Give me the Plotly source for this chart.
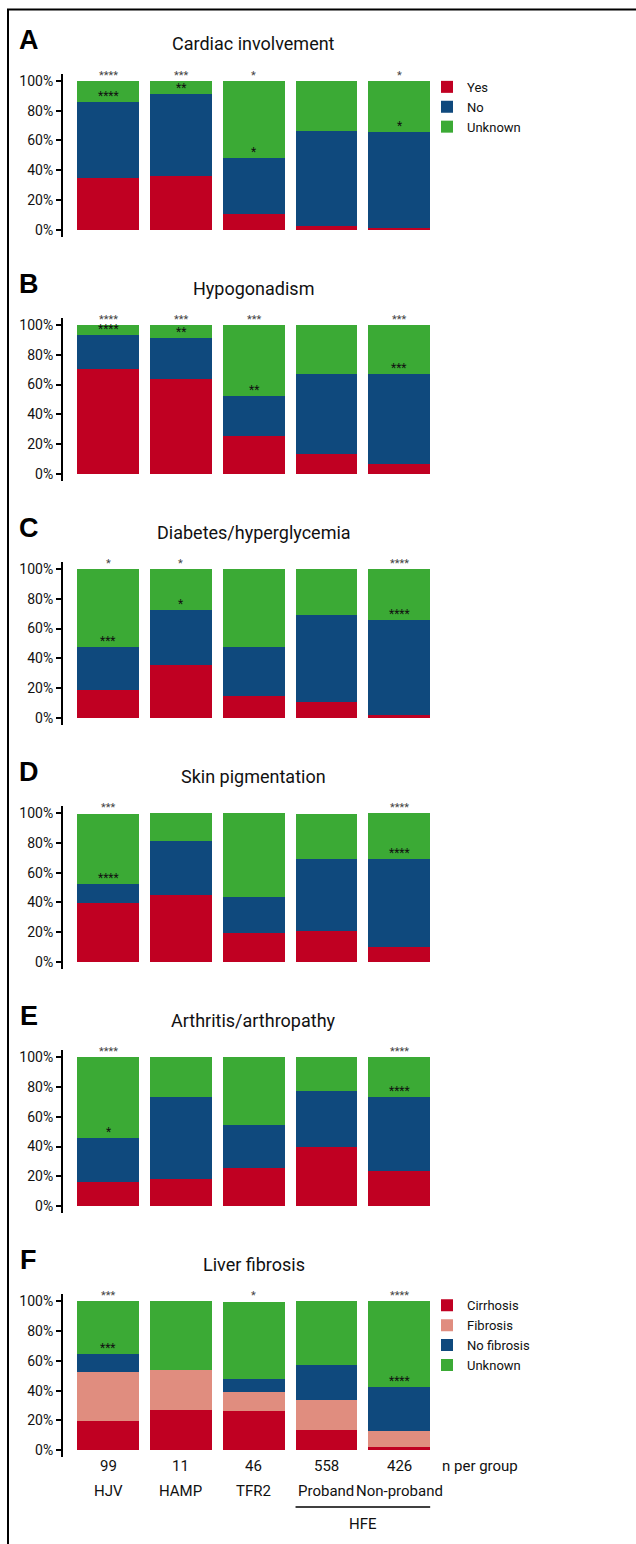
import plotly.graph_objects as go

W, H = 636, 1544

# ---------------- data ----------------
groups = ["HJV", "HAMP", "TFR2", "Proband", "Non-proband"]
n_per_group = ["99", "11", "46", "558", "426"]

panel_letters = ["A", "B", "C", "D", "E", "F"]
panel_titles = ["Cardiac involvement", "Hypogonadism", "Diabetes/hyperglycemia",
                "Skin pigmentation", "Arthritis/arthropathy", "Liver fibrosis"]

y_tick_vals = [0, 20, 40, 60, 80, 100]
y_tick_text = ["0%", "20%", "40%", "60%", "80%", "100%"]

# Panels A-E: Yes / No / Unknown (% of group)
cardiac_yes = [34.9, 36.2, 10.3, 2.7, 1.3]
cardiac_no = [51.0, 55.3, 37.6, 63.7, 64.5]
cardiac_unknown = [14.1, 8.5, 52.1, 33.6, 34.2]

hypogonadism_yes = [70.3, 63.6, 25.4, 13.3, 6.5]
hypogonadism_no = [23.0, 27.6, 26.7, 53.7, 60.5]
hypogonadism_unknown = [6.7, 8.8, 47.9, 33.0, 33.0]

diabetes_yes = [18.6, 35.7, 14.6, 10.5, 2.0]
diabetes_no = [28.9, 36.7, 32.9, 58.6, 63.7]
diabetes_unknown = [52.5, 27.6, 52.5, 30.9, 34.3]

skin_yes = [39.4, 44.7, 19.2, 21.0, 10.3]
skin_no = [12.9, 36.9, 24.2, 48.4, 59.1]
skin_unknown = [47.3, 18.8, 57.0, 30.1, 31.0]

arthritis_yes = [15.9, 18.2, 25.3, 39.7, 23.5]
arthritis_no = [29.6, 54.9, 29.0, 37.4, 49.6]
arthritis_unknown = [54.5, 26.9, 45.7, 22.9, 26.9]

# Panel F: liver fibrosis
liver_cirrhosis = [19.6, 27.0, 26.3, 13.6, 2.2]
liver_fibrosis = [32.9, 26.8, 12.8, 20.1, 10.7]
liver_no_fibrosis = [12.0, 0.0, 8.7, 23.4, 29.7]
liver_unknown = [35.5, 46.2, 51.5, 42.9, 57.4]

# significance markers: above the bar / at the top of the "No" segment
stars_top = [["****", "***", "*", "", "*"],
             ["****", "***", "***", "", "***"],
             ["*", "*", "", "", "****"],
             ["***", "", "", "", "****"],
             ["****", "", "", "", "****"],
             ["***", "", "*", "", "****"]]
stars_inner = [["****", "**", "*", "", "*"],
               ["****", "**", "**", "", "***"],
               ["***", "*", "", "", "****"],
               ["****", "", "", "", "****"],
               ["*", "", "", "", "****"],
               ["***", "", "", "", "****"]]

# ---------------- style ----------------
RED = "#C00022"
BLUE = "#0F497D"
GREEN = "#3BAA35"
SALMON = "#E08D7F"
FONT = "Roboto, Lato, sans-serif"

yes_no_names = ["Yes", "No", "Unknown"]
yes_no_colors = [RED, BLUE, GREEN]
liver_names = ["Cirrhosis", "Fibrosis", "No fibrosis", "Unknown"]
liver_colors = [RED, SALMON, BLUE, GREEN]

panels = [
    (yes_no_names, [cardiac_yes, cardiac_no, cardiac_unknown], yes_no_colors),
    (yes_no_names, [hypogonadism_yes, hypogonadism_no, hypogonadism_unknown], yes_no_colors),
    (yes_no_names, [diabetes_yes, diabetes_no, diabetes_unknown], yes_no_colors),
    (yes_no_names, [skin_yes, skin_no, skin_unknown], yes_no_colors),
    (yes_no_names, [arthritis_yes, arthritis_no, arthritis_unknown], yes_no_colors),
    (liver_names, [liver_cirrhosis, liver_fibrosis, liver_no_fibrosis, liver_unknown], liver_colors),
]

# layout geometry (pixels)
P100_FIRST = 80.0
PANEL_STEP = 244.4
PANEL_H = 149.0
YPAD = 0.047
X_LEFT, X_RIGHT = 63.0, 440.0
X_RANGE = [-0.62, 4.56]


def py(p):
    return 1 - p / H


fig = go.Figure()
annotations = []
shapes = []
layout_axes = {}

for i, (names, series, colors) in enumerate(panels):
    k = "" if i == 0 else str(i + 1)
    xa, ya = "x" + k, "y" + k
    for j, (name, vals, col) in enumerate(zip(names, series, colors)):
        if i == 0:
            show, leg = True, "legend"
        elif i == 5:
            show, leg = True, "legend2"
        else:
            show, leg = False, "legend"
        fig.add_trace(go.Bar(
            x=groups, y=vals, name=name, xaxis=xa, yaxis=ya,
            marker=dict(color=col, line=dict(width=0)),
            showlegend=show, legend=leg, hoverinfo="skip",
        ))

    p100 = P100_FIRST + i * PANEL_STEP
    p0 = p100 + PANEL_H
    top = p100 - YPAD * PANEL_H
    bot = p0 + YPAD * PANEL_H
    layout_axes["xaxis" + k] = dict(
        domain=[X_LEFT / W, X_RIGHT / W], range=X_RANGE, anchor=ya,
        type="category", showticklabels=False, showline=False, ticks="",
        showgrid=False, zeroline=False)
    layout_axes["yaxis" + k] = dict(
        domain=[py(bot), py(top)], range=[-YPAD * 100, 100 + YPAD * 100], anchor=xa,
        tickmode="array", tickvals=y_tick_vals, ticktext=y_tick_text,
        showline=True, linewidth=2, linecolor="black",
        ticks="outside", ticklen=5, tickwidth=1.5, tickcolor="black",
        showgrid=False, zeroline=False,
        tickfont=dict(family=FONT, size=14, color="#111"))

    # panel letter & title
    annotations.append(dict(text="<b>" + panel_letters[i] + "</b>", xref="paper", yref="paper",
                            x=29 / W, y=py(p100 - 41), xanchor="center", yanchor="middle",
                            showarrow=False,
                            font=dict(family="Liberation Sans, Arial", size=27, color="black")))
    annotations.append(dict(text=panel_titles[i], xref=xa, yref="paper",
                            x=2, y=py(p100 - 37), xanchor="center", yanchor="middle",
                            showarrow=False, font=dict(family=FONT, size=18, color="#111")))

    # significance stars
    inner_base = [sum(s[g] for s in series[:-1]) for g in range(len(groups))]
    for g, grp in enumerate(groups):
        if stars_top[i][g]:
            annotations.append(dict(text=stars_top[i][g], xref=xa, yref=ya, x=grp, y=100,
                                    xanchor="center", yanchor="bottom", yshift=-3,
                                    showarrow=False,
                                    font=dict(family=FONT, size=11, color="#444")))
        if stars_inner[i][g]:
            annotations.append(dict(text=stars_inner[i][g], xref=xa, yref=ya, x=grp,
                                    y=inner_base[g], xanchor="center", yanchor="bottom",
                                    yshift=-3, showarrow=False,
                                    font=dict(family=FONT, size=12, color="#111")))

# bottom labels (panel F)
last_p0 = P100_FIRST + 5 * PANEL_STEP + PANEL_H
for g, grp in enumerate(groups):
    annotations.append(dict(text=n_per_group[g], xref="x6", yref="paper", x=grp,
                            y=py(last_p0 + 16), xanchor="center", yanchor="middle",
                            showarrow=False, font=dict(family=FONT, size=15, color="#111")))
    annotations.append(dict(text=grp, xref="x6", yref="paper", x=grp,
                            y=py(last_p0 + 41), xanchor="center", yanchor="middle",
                            showarrow=False, font=dict(family=FONT, size=15, color="#111")))
annotations.append(dict(text="n per group", xref="paper", yref="paper", x=440 / W,
                        y=py(last_p0 + 16), xanchor="left", yanchor="middle",
                        showarrow=False, font=dict(family=FONT, size=15, color="#111")))
annotations.append(dict(text="HFE", xref="x6", yref="paper", x=3.5,
                        y=py(last_p0 + 74), xanchor="center", yanchor="middle",
                        showarrow=False, font=dict(family=FONT, size=15, color="#111")))
shapes.append(dict(type="line", xref="x6", yref="paper", x0=3 - 0.425, x1=4 + 0.425,
                   y0=py(last_p0 + 57), y1=py(last_p0 + 57),
                   line=dict(color="black", width=1.5)))
# figure frame
shapes.append(dict(type="rect", xref="paper", yref="paper", x0=8 / W, x1=1.05,
                   y0=-0.05, y1=py(8.5), line=dict(color="black", width=2)))

legend_style = dict(xanchor="left", yanchor="top", traceorder="normal",
                    font=dict(family=FONT, size=13, color="#111"),
                    bgcolor="rgba(0,0,0,0)", borderwidth=0, tracegroupgap=0)

fig.update_layout(
    width=W, height=H, margin=dict(l=0, r=0, t=0, b=0),
    barmode="stack", bargap=0.15,
    plot_bgcolor="white", paper_bgcolor="white",
    annotations=annotations, shapes=shapes,
    legend=dict(x=427 / W, y=py(71), **legend_style),
    legend2=dict(x=427 / W, y=py(1291), **legend_style),
    **layout_axes,
)

fig.write_html("out.html", config={"displayModeBar": False},
               post_script="document.body.style.margin='0';")
